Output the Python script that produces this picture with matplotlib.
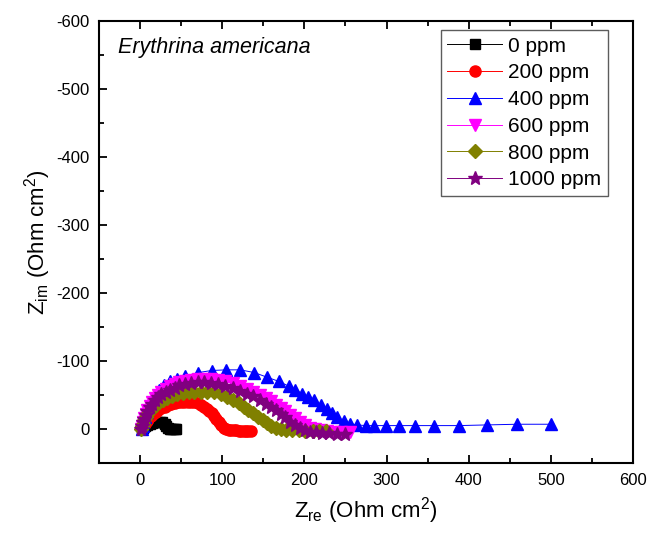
import matplotlib
matplotlib.use('Agg')
import matplotlib.pyplot as plt
from matplotlib.ticker import MultipleLocator

plt.rcParams['font.family'] = ['Liberation Sans', 'DejaVu Sans']
plt.rcParams['axes.unicode_minus'] = False

# Nyquist data: Z_re and Z_im (Ohm cm2)
x_0 = [2, 4, 6, 9, 12, 15, 18, 21, 24, 27, 30, 32, 34, 36, 38, 40, 42, 44]
y_0 = [0, -2, -4, -6, -8, -9, -10, -11, -11, -10, -8, -5, -2, 0, 0, 0, 0, 0]

x_200 = [2, 4, 6, 8, 10, 13, 16, 19, 22, 26, 30, 34, 38, 42, 46, 50, 54, 58, 62, 66, 70,
         74, 78, 81, 84, 87, 90, 93, 96, 99, 102, 105, 108, 111, 114, 117, 120, 123, 126,
         129, 132, 135]
y_200 = [0, -4, -8, -12, -15, -19, -22, -25, -28, -31, -33, -35, -37, -38, -39, -40, -40,
         -40, -40, -39, -38, -36, -33, -30, -27, -23, -19, -15, -11, -6, -2, 0, 1, 2, 2, 2,
         3, 3, 3, 3, 3, 3]

x_400 = [2, 3, 4, 6, 8, 11, 14, 18, 23, 29, 36, 45, 55, 71, 87, 105, 122, 139, 155, 169,
         181, 189, 197, 205, 212, 220, 228, 234, 240, 248, 256, 264, 275, 285, 299, 315,
         335, 358, 388, 422, 459, 500]
y_400 = [0, -5, -11, -18, -25, -33, -41, -49, -57, -64, -70, -74, -78, -83, -86, -87, -87,
         -83, -76, -70, -63, -58, -52, -47, -42, -36, -29, -23, -17, -12, -8, -6, -5, -5,
         -5, -5, -5, -5, -5, -6, -7, -7]

x_600 = [1, 2, 3, 5, 7, 9, 12, 15, 18, 22, 26, 31, 36, 42, 48, 55, 62, 70, 78, 86, 95,
         104, 113, 122, 130, 138, 146, 153, 159, 165, 171, 177, 183, 189, 195, 201, 207,
         213, 220, 228, 236, 245, 256]
y_600 = [0, -5, -10, -16, -22, -28, -34, -40, -45, -50, -55, -59, -63, -66, -69, -71, -72,
         -73, -73, -73, -72, -70, -67, -63, -59, -55, -50, -45, -41, -36, -31, -26, -21,
         -16, -11, -6, -2, 0, 2, 3, 4, 5, 5]

x_800 = [1, 2, 3, 5, 7, 9, 12, 15, 19, 23, 28, 33, 39, 45, 52, 59, 66, 74, 82, 90, 98,
         106, 113, 120, 126, 132, 138, 144, 150, 155, 160, 165, 171, 178, 185, 193, 201,
         210, 218, 226]
y_800 = [0, -4, -8, -13, -18, -22, -27, -31, -35, -39, -43, -46, -49, -51, -53, -54, -55,
         -55, -55, -54, -51, -47, -43, -38, -33, -28, -23, -18, -13, -9, -5, -2, 0, 1, 2,
         2, 3, 3, 3, 3]

x_1000 = [1, 2, 3, 5, 7, 9, 12, 15, 18, 22, 26, 31, 36, 42, 48, 55, 62, 70, 78, 86, 95,
          104, 113, 122, 130, 138, 146, 153, 159, 165, 171, 177, 183, 189, 195, 201, 207,
          214, 222, 230, 240, 250]
y_1000 = [0, -5, -10, -15, -21, -26, -32, -37, -42, -47, -51, -55, -58, -61, -64, -66,
          -68, -69, -69, -68, -66, -63, -60, -56, -52, -48, -42, -37, -33, -28, -22, -17,
          -11, -6, -1, 2, 4, 5, 6, 6, 7, 7]

labels = ['0 ppm', '200 ppm', '400 ppm', '600 ppm', '800 ppm', '1000 ppm']
colors = ['#000000', '#FF0000', '#0000FF', '#FF00FF', '#808000', '#800080']
markers = ['s', 'o', '^', 'v', 'D', '*']
sizes = [7, 8, 8.5, 8.5, 7, 10]

series = [(x_0, y_0), (x_200, y_200), (x_400, y_400),
          (x_600, y_600), (x_800, y_800), (x_1000, y_1000)]

fig = plt.figure(figsize=(6.49, 5.38), dpi=100)
ax = fig.add_axes([0.1525, 0.1394, 0.8228, 0.8216])

for (xs, ys), lab, c, m, s in zip(series, labels, colors, markers, sizes):
    ax.plot(xs, ys, color=c, marker=m, markersize=s, linewidth=0.7,
            markeredgecolor=c, label=lab)

ax.set_xlim(-50, 600)
ax.set_ylim(50, -600)
ax.xaxis.set_major_locator(MultipleLocator(100))
ax.xaxis.set_minor_locator(MultipleLocator(50))
ax.yaxis.set_major_locator(MultipleLocator(100))
ax.yaxis.set_minor_locator(MultipleLocator(50))
ax.tick_params(which='both', direction='in', top=True, right=False, width=1.3,
               labelsize=12)
ax.tick_params(which='major', length=6, pad=7)
ax.tick_params(which='minor', length=3.5)
for sp in ax.spines.values():
    sp.set_linewidth(1.5)

ax.set_xlabel('Z$_{\\mathregular{re}}$ (Ohm cm$^{\\mathregular{2}}$)', fontsize=16, labelpad=5)
ax.set_ylabel('Z$_{\\mathregular{im}}$ (Ohm cm$^{\\mathregular{2}}$)', fontsize=16, labelpad=2)

ax.text(0.036, 0.941, 'Erythrina americana', transform=ax.transAxes,
        fontsize=15.5, style='italic', va='center', ha='left')

leg = ax.legend(loc='upper right', bbox_to_anchor=(0.953, 0.98), fontsize=15,
                frameon=True, fancybox=False, handlelength=2.6, handletextpad=0.3,
                labelspacing=0.37, borderpad=0.33, borderaxespad=0)
leg.get_frame().set_edgecolor('#333333')
leg.get_frame().set_linewidth(1.0)

fig.savefig('out.png', dpi=100)
